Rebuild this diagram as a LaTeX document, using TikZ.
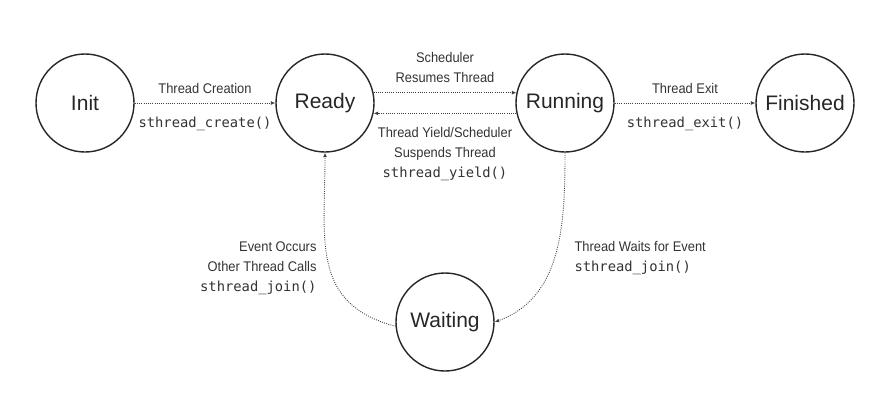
\documentclass[tikz,border=0pt]{standalone}
\usepackage{fontspec}
\setmainfont{Liberation Sans}
\newfontfamily\lblfont[FakeStretch=0.92]{Liberation Sans}
\newfontfamily\codefont{DejaVu Sans Mono}
\usetikzlibrary{positioning}
\usetikzlibrary{arrows.meta}
\tikzset{>=latex}
\colorlet{mygray}{black!80}
\newcommand{\fcall}[1]{{\codefont\fontsize{13.8}{20}\selectfont #1}}
\tikzstyle{state}=[circle, draw=black!85, line width=1.4pt, minimum size=98pt, inner sep=0pt, font=\fontsize{21}{24}\selectfont, text=black!85]
\tikzstyle{trans}=[-{Latex[length=4.5pt,width=4pt]}, black!75, line width=0.9pt, dash pattern=on 0.9pt off 1.3pt]
\tikzstyle{translabel}=[font=\lblfont\fontsize{14}{20}\selectfont, text=mygray, align=center, inner sep=3.33pt]

\begin{document}
\begin{tikzpicture}[
    x=1pt, y=1pt,
    node distance=240pt,
    on grid]
\useasboundingbox (0,0) rectangle (891,-413);

% States
\node[state] (init) at (85,-103) {Init};
\node[state] (ready) [right=of init] {Ready};
\node[state] (running) [right=of ready] {Running};
\node[state] (finished) [right=of running] {Finished};
\node[state] (waiting) [below right=219pt and 120pt of ready] {Waiting};

\begin{scope}[trans]
    % top row
    \draw (init) -- node[translabel, above=6pt] (lblcreate) {Thread Creation}
        node[translabel, below=10pt] (lblcreatefn) {\fcall{sthread\_create()}} (ready);
    \draw (ready.12) -- node[translabel, above=6pt] (lblresume) {Scheduler\\Resumes Thread} (running.168);
    \draw (running.-168) -- node[translabel, below=10pt] (lblyield) {Thread Yield/Scheduler\\Suspends Thread\\\fcall{sthread\_yield()}} (ready.-12);
    \draw (running) -- node[translabel, above=6pt] (lblexit) {Thread Exit}
        node[translabel, below=10pt] (lblexitfn) {\fcall{sthread\_exit()}} (finished);

    % waiting loop
    \draw (running.south) to[out=-90, in=20] (waiting.east);
    \draw (waiting.185) to[out=165, in=-90, looseness=1.2] (ready.south);
\end{scope}

\node[translabel, align=right, anchor=east] (lbloccur) at (320,-268) {Event Occurs\\Other Thread Calls\\\fcall{sthread\_join()}};
\node[translabel, align=left, anchor=west] (lblwait) at (571,-258) {Thread Waits for Event\\\fcall{sthread\_join()}};

\end{tikzpicture}
\end{document}
